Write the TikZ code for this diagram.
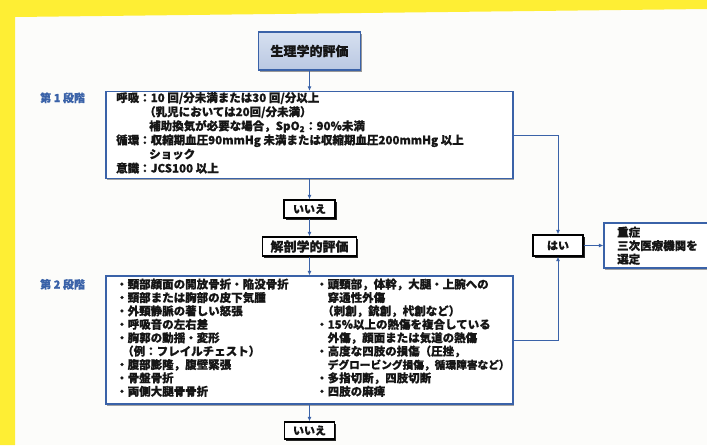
\documentclass[tikz,border=0pt]{standalone}
\usepackage{fontspec}
\newfontfamily\jp{Noto Sans CJK JP}[BoldFeatures={FakeBold=0.6}]
\usetikzlibrary{shadows,arrows.meta}
\definecolor{ybg}{RGB}{254,238,52}
\definecolor{pagebg}{RGB}{252,252,250}
\definecolor{lblue}{RGB}{58,98,168}
\definecolor{txt}{RGB}{22,22,22}
\definecolor{pfilltop}{RGB}{214,224,240}
\definecolor{pfillbot}{RGB}{186,200,226}
\begin{document}
\begin{tikzpicture}[x=1pt,y=-1pt,
  stagebox/.style={draw=lblue, line width=1.2pt, fill=white, inner sep=0pt,
    drop shadow={shadow xshift=1.2pt, shadow yshift=-1.6pt, fill=black!45, opacity=0.8}},
  physbox/.style={draw=lblue, line width=1.6pt, top color=pfilltop, bottom color=pfillbot,
    inner sep=0pt, text=txt, font=\jp\bfseries\fontsize{13}{15}\selectfont,
    drop shadow={shadow xshift=1.8pt, shadow yshift=-1.8pt, fill=black!50, opacity=0.8}},
  blackbox/.style={draw=black, line width=1.3pt, fill=white, inner sep=0pt, text=txt,
    drop shadow={shadow xshift=1.8pt, shadow yshift=-1.8pt, fill=black!85, opacity=1}},
  small/.style={font=\jp\bfseries\fontsize{11}{13}\selectfont},
  big/.style={font=\jp\bfseries\fontsize{13}{15}\selectfont},
  ln/.style={anchor=base west, inner sep=0pt, font=\jp\bfseries\fontsize{11.5}{13}\selectfont, text=txt},
  lnn/.style={ln, font=\jp\bfseries\fontsize{10.7}{13}\selectfont},
  lab/.style={ln, text=lblue, font=\jp\bfseries\fontsize{11}{13}\selectfont},
  conn/.style={draw=lblue, line width=1pt, -{Latex[length=4.5pt,width=4pt]}},
]
\clip (0,0) rectangle (707,445);
\fill[pagebg] (0,0) rectangle (707,445);
\fill[ybg] (0,0) -- (707,0) -- (707,9) -- (15,17) -- (15,445) -- (0,445) -- cycle;

% boxes
\node[physbox, minimum width=102pt, minimum height=38pt] (phys) at (309.5,51) {生理学的評価};
\node[stagebox, minimum width=407pt, minimum height=87pt] (s1) at (309.5,135) {};
\node[blackbox, small, minimum width=51pt, minimum height=18pt] (no1) at (309.5,209) {いいえ};
\node[blackbox, big, minimum width=94pt, minimum height=19pt] (anat) at (309.5,246.5) {解剖学的評価};
\node[stagebox, minimum width=407pt, minimum height=128pt] (s2) at (309.5,340) {};
\node[blackbox, small, minimum width=50pt, minimum height=17pt] (no2) at (309.5,430.5) {いいえ};
\node[blackbox, small, minimum width=50pt, minimum height=21pt] (yes) at (558,245.5) {はい};
\node[stagebox, minimum width=116pt, minimum height=45pt] (sev) at (662,245.5) {};

% stage labels
\node[lab] (lab1) at (40,102) {第 1 段階};
\node[lab] (lab2) at (40,288.5) {第 2 段階};

% stage 1 text
\node[ln] (a1) at (116,102) {呼吸：10 回/分未満または30 回/分以上};
\node[ln] (a2) at (144,116.1) {（乳児においては20回/分未満）};
\node[ln] (a3) at (149,130.2) {補助換気が必要な場合，SpO\textsubscript{2}：90\%未満};
\node[ln] (a4) at (116,144.3) {循環：収縮期血圧90mmHg 未満または収縮期血圧200mmHg 以上};
\node[ln] (a5) at (149,158.4) {ショック};
\node[ln] (a6) at (116,172.5) {意識：JCS100 以上};

% stage 2 left column
\node[ln] (b1) at (116,288.5) {・頸部顔面の開放骨折・陥没骨折};
\node[ln] (b2) at (116,301.9) {・頸部または胸部の皮下気腫};
\node[ln] (b3) at (116,315.3) {・外頸静脈の著しい怒張};
\node[ln] (b4) at (116,328.7) {・呼吸音の左右差};
\node[ln] (b5) at (116,342.1) {・胸郭の動揺・変形};
\node[ln] (b6) at (122,355.5) {（例：フレイルチェスト）};
\node[ln] (b7) at (116,368.9) {・腹部膨隆，腹壁緊張};
\node[ln] (b8) at (116,382.3) {・骨盤骨折};
\node[ln] (b9) at (116,395.7) {・両側大腿骨骨折};

% stage 2 right column
\node[ln] (c1) at (316,288.5) {・頭頸部，体幹，大腿・上腕への};
\node[ln] (c2) at (327.5,301.9) {穿通性外傷};
\node[ln] (c3) at (322,315.3) {（刺創，銃創，杙創など）};
\node[ln] (c4) at (316,328.7) {・15\%以上の熱傷を複合している};
\node[ln] (c5) at (327.5,342.1) {外傷，顔面または気道の熱傷};
\node[ln] (c6) at (316,355.5) {・高度な四肢の損傷（圧挫，};
\node[lnn] (c7) at (327.5,368.9) {デグロービング損傷，循環障害など）};
\node[ln] (c8) at (316,382.3) {・多指切断，四肢切断};
\node[ln] (c9) at (316,395.7) {・四肢の麻痺};

% severe box text
\node[ln] (d1) at (617,236.5) {重症};
\node[ln] (d2) at (617,250) {三次医療機関を};
\node[ln] (d3) at (617,263.5) {選定};

% connectors
\draw[conn] (phys) -- (s1);
\draw[conn] (s1) -- (no1);
\draw[conn] (no1) -- (anat);
\draw[conn] (anat) -- (s2);
\draw[conn] (s2) -- (no2);
\draw[conn] (s1.east) -| (yes.north);
\draw[conn] (s2.east) -| (yes.south);
\draw[conn] (yes) -- (sev);
\end{tikzpicture}
\end{document}
